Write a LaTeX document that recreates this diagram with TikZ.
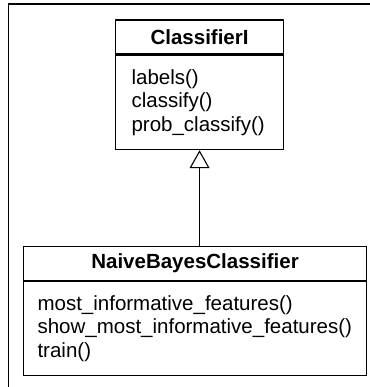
\documentclass[tikz,border=0pt]{standalone}
\usepackage{fontspec}
\setmainfont{Liberation Sans}
\usetikzlibrary{arrows.meta}
\begin{document}
\begin{tikzpicture}[x=1pt,y=-1pt,
		head/.style={draw,line width=1.1pt,font=\fontsize{20.5}{23.5}\selectfont\bfseries,inner sep=0pt,minimum height=34},
		body/.style={draw,line width=1.1pt,font=\fontsize{20.5}{23.5}\selectfont,align=left,inner ysep=0pt,minimum height=94.5}]
	\useasboundingbox (0,0) rectangle (369,387);
	% khung ngoai
	\draw[line width=1.1pt] (8.5,390) -- (8.5,4) -- (372,4);
	% lop ClassifierI
	\node[head,anchor=north west,minimum width=168] (ci) at (115,19.5) {ClassifierI};
	\node[body,anchor=north,text width=136,inner xsep=16] (cib) at (ci.south) {labels()\\classify()\\prob\_classify()};
	% lop NaiveBayesClassifier
	\node[head,anchor=north west,minimum width=343] (nb) at (23,245.5) {NaiveBayesClassifier};
	\node[body,anchor=north,text width=315,inner xsep=14] (nbb) at (nb.south) {most\_informative\_features()\\show\_most\_informative\_features()\\train()};
	% ke thua
	\draw[line width=1.1pt,-{Triangle[open,length=18,width=20]}] (cib.south |- nb.north) -- (cib.south);
\end{tikzpicture}
\end{document}
